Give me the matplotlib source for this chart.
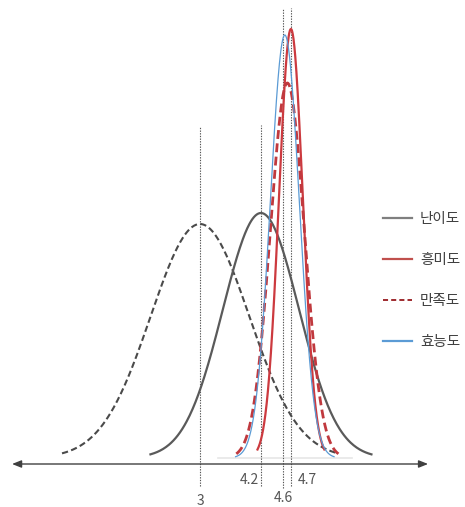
import numpy as np
import matplotlib
matplotlib.use("Agg")
import matplotlib.pyplot as plt
from matplotlib.lines import Line2D

plt.rcParams['font.family'] = ['Noto Sans CJK KR', 'DejaVu Sans']

# ---- data (schematic normal curves) ----
series_names = ['난이도', '흥미도', '만족도', '효능도']
series_means = [4.2, 4.79, 4.72, 4.67]
series_sds = [0.75, 0.235, 0.335, 0.285]
series_peaks = [2.45, 4.29, 3.75, 4.23]
series_span = [2.9, 2.8, 3.0, 3.4]

ref_mean = 3.0
ref_sd = 0.97
ref_peak = 2.34
ref_span = 2.8

tick_labels = ['3', '4.2', '4.6', '4.7']
tick_positions = [3.0, 4.2, 4.635, 4.79]

# ---- styles ----
colors = ['#5a5a5a', '#cc3a3f', '#c0393e', '#5b9bd5']
legend_colors = ['#7f7f7f', '#c0504d', '#9e2a2e', '#5b9bd5']
lws = [1.6, 1.6, 2.0, 0.9]
styles = ['-', '-', (0, (3.2, 1.6)), '-']

fig = plt.figure(figsize=(4.65, 5.07), dpi=100)
ax = fig.add_axes([0, 0, 1, 1])
ax.set_xlim(-0.937, 8.217)
ax.set_ylim(-0.49, 4.58)
ax.axis('off')

def gauss(mu, sd, peak, span):
    x = np.linspace(mu - span * sd, mu + span * sd, 300)
    return x, peak * np.exp(-0.5 * ((x - mu) / sd) ** 2)

# faint baseline
ax.plot([3.354, 5.99], [0, 0], color='#e6e6e6', lw=1.2, zorder=1)

# reference curve
x, y = gauss(ref_mean, ref_sd, ref_peak, ref_span)
ax.plot(x, y, color='#4a4a4a', lw=1.5, ls=(0, (3, 1.6)), zorder=3)

# vertical dotted reference lines
v_top = [3.31, 3.33, 4.50, 4.50]
v_bot = [-0.28, -0.28, -0.30, -0.28]
for p, t, b in zip(tick_positions, v_top, v_bot):
    ax.plot([p, p], [b, t], color='#555555', lw=0.8, ls=(0, (1.2, 1.2)), zorder=2)

order = [0, 3, 1, 2]
for i in order:
    x, y = gauss(series_means[i], series_sds[i], series_peaks[i], series_span[i])
    ax.plot(x, y, color=colors[i], lw=lws[i], ls=styles[i], zorder=4 + i)

# axis with arrows
ax.annotate('', xy=(-0.70, -0.06), xytext=(7.49, -0.06),
            arrowprops=dict(arrowstyle='<|-|>,head_length=0.55,head_width=0.22',
                            color='#404040', lw=1.0, shrinkA=0, shrinkB=0), zorder=6)

# tick labels
tcol = '#555555'
ax.text(3.0, -0.43, tick_labels[0], ha='center', va='center', fontsize=10, color=tcol)
ax.text(4.16, -0.22, tick_labels[1], ha='right', va='center', fontsize=10, color=tcol)
ax.text(tick_positions[2], -0.40, tick_labels[2], ha='center', va='center', fontsize=10, color=tcol)
ax.text(4.93, -0.22, tick_labels[3], ha='left', va='center', fontsize=10, color=tcol)

handles = [Line2D([0], [0], color=legend_colors[i], lw=1.6 if i != 2 else 1.4,
                  ls=styles[i] if i != 2 else (0, (2.6, 1.6))) for i in range(4)]
leg = ax.legend(handles, series_names, loc='upper left', bbox_to_anchor=(0.795, 0.607),
                frameon=False, fontsize=10.5, handlelength=2.0, handletextpad=0.55,
                labelspacing=1.85, labelcolor='#404040')

fig.savefig('out.png', dpi=100)
